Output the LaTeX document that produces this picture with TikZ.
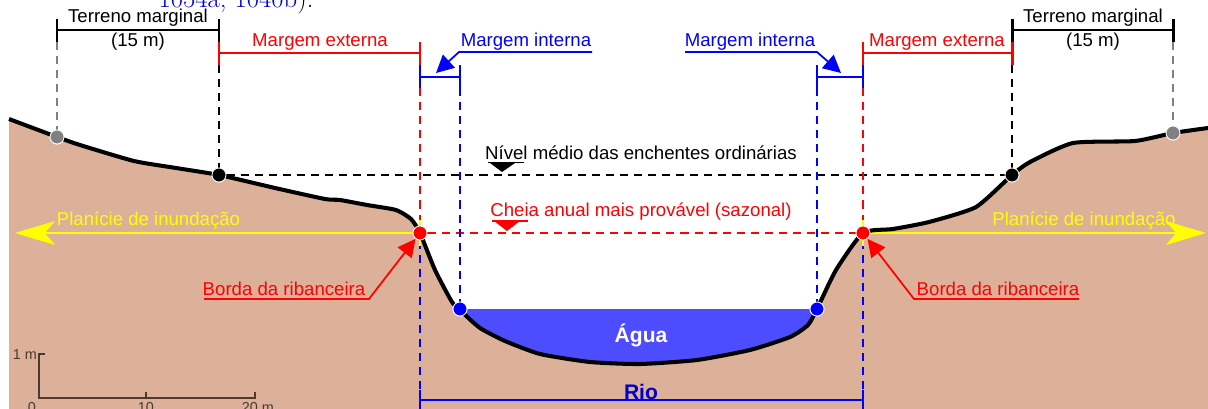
\documentclass[tikz,border=0pt]{standalone}
\usepackage{fontspec}
\setsansfont{Liberation Sans}
\usepackage{xcolor}
\usetikzlibrary{arrows.meta,calc,positioning}
\definecolor{soil}{HTML}{DDB09A}
\definecolor{water}{HTML}{4D4DFF}
\definecolor{scalebrown}{HTML}{4A3A32}
\definecolor{floodyellow}{HTML}{FFFF00}
\tikzset{
  every node/.style={font=\sffamily\fontsize{10.6}{12}\selectfont,inner sep=0pt},
  span/.style={line width=1.7pt},
  guide/.style={line width=1pt,dash pattern=on 4.6pt off 3.4pt},
  dot/.style={circle,fill=#1,draw=white,line width=0.5pt,minimum size=8pt},
  leader/.style={line width=1pt,-{Triangle[length=10pt,width=10pt]}},
  flood/.style={floodyellow,line width=1.5pt,-{Stealth[length=22.7pt,width=13.5pt,inset=5.7pt]}},
  scaleline/.style={scalebrown,line width=0.7pt},
  scaletext/.style={font=\sffamily\fontsize{8.2}{10}\selectfont,text=scalebrown}
}
% ground surface across the valley
\newcommand{\profile}{plot[smooth,tension=0.35] coordinates {
  (9,119) (57,137) (80,145) (134,161) (176,168) (219,175) (275,188) (325,199)
  (340,200) (367,205) (396,210) (411,219) (420,233) (435,270) (452,302) (462,312)
  (480,328) (505,341) (540,354) (590,362) (640,364) (697,360) (750,350) (790,337)
  (808,325) (817,309) (836,270) (863,233) (893,229) (929,222) (976,207) (1012,175)
  (1030,162) (1073,143) (1135,141) (1173,133) (1208,128)}}

\begin{document}
\begin{tikzpicture}[x=0.02cm,y=-0.02cm]
  \useasboundingbox (0,0) rectangle (1208,409);
  \begin{scope}
    \clip (0,0) rectangle (1208,30);
    \node[anchor=base,font=\rmfamily\fontsize{15.2}{16}\selectfont] (quote) at (236,7.5)
      {\textcolor{blue!80!black}{1054a, 1040b})\textsl{.}};
  \end{scope}

  % water first, the ground covers what lies under the bed
  \fill[water] (450,309) rectangle (825,372);
  \fill[soil] \profile -- (1208,409) -- (9,409) -- cycle;

  % points on the surface
  \path (57,137) node[dot=gray] (outerL) {}
        (219,175) node[dot=black] (levelL) {}
        (420,233) node[dot=red] (bankL) {}
        (460,309) node[dot=blue] (waterL) {}
        (817,309) node[dot=blue] (waterR) {}
        (863,233) node[dot=red] (bankR) {}
        (1012,175) node[dot=black] (levelR) {}
        (1173,133) node[dot=gray] (outerR) {};

  % guides
  \draw[guide,gray] (57,42) -- (outerL);
  \draw[guide,gray] (1173,42) -- (outerR);
  \draw[guide] (219,65) -- (levelL);
  \draw[guide] (1012,65) -- (levelR);
  \draw[guide] (levelL) -- (levelR);
  \draw[guide,red] (420,88) -- (bankL);
  \draw[guide,red] (863,88) -- (bankR);
  \draw[guide,red] (bankL) -- (bankR);
  \draw[guide,blue] (460,88) -- (waterL);
  \draw[guide,blue] (817,88) -- (waterR);
  \draw[guide,blue] (bankL) -- (420,390);
  \draw[guide,blue] (bankR) -- (863,390);

  % flood plain
  \coordinate (plainL) at (15,233);
  \coordinate (plainR) at (1206,233);
  \draw[flood] (bankL) -- (plainL);
  \draw[flood] (bankR) -- (plainR);
  \draw[floodyellow,line width=1.5pt] (420,220) -- (420,246);
  \draw[floodyellow,line width=1.5pt] (863,220) -- (863,246);

  \draw[line width=2.3pt,line join=round] \profile;

  % dots again, over the surface line
  \path (outerL) node[dot=gray] {}
        (levelL) node[dot=black] {}
        (bankL) node[dot=red] {}
        (waterL) node[dot=blue] {}
        (waterR) node[dot=blue] {}
        (bankR) node[dot=red] {}
        (levelR) node[dot=black] {}
        (outerR) node[dot=gray] {};

  % spans above the section
  \draw[span] (57,19) -- (57,42);
  \draw[span] (219,19) -- (219,42);
  \draw[span] (57,30) -- (219,30);
  \draw[span] (1012,19) -- (1012,42);
  \draw[span] (1173,19) -- (1173,42);
  \draw[span] (1012,30) -- (1173,30);
  \draw[span,red] (219,42) -- (219,65);
  \draw[span,red] (420,42) -- (420,65);
  \draw[span,red] (219,53) -- (420,53);
  \draw[span,red] (863,42) -- (863,65);
  \draw[span,red] (1012,42) -- (1012,65);
  \draw[span,red] (863,53) -- (1012,53);
  \draw[span,blue] (420,65) -- (420,88);
  \draw[span,blue] (460,65) -- (460,88);
  \draw[span,blue] (420,77) -- (460,77);
  \draw[span,blue] (817,65) -- (817,88);
  \draw[span,blue] (863,65) -- (863,88);
  \draw[span,blue] (817,77) -- (863,77);
  \draw[span,blue] (420,390) -- (420,409);
  \draw[span,blue] (863,390) -- (863,409);
  \draw[span,blue] (420,400) -- (863,400);

  % span labels
  \node (terrenoL) at (138,18) {Terreno marginal};
  \node (widthL) at (138,42) {(15 m)};
  \node (terrenoR) at (1093,18) {Terreno marginal};
  \node (widthR) at (1093,42) {(15 m)};
  \node[text=red] (externaL) at (320,42) {Margem externa};
  \node[text=red] (externaR) at (937,42) {Margem externa};
  \node[text=blue] (internaL) at (526,42) {Margem interna};
  \node[text=blue] (internaR) at (750,42) {Margem interna};

  % water level marks
  \node (ordinary) at (641,153) {Nível médio das enchentes ordinárias};
  \node[text=red] (seasonal) at (641,212) {Cheia anual mais provável (sazonal)};
  \draw[line width=0.8pt] (488,162.5) -- (524,162.5);
  \fill (490,163) -- (515,163) -- (502,172) -- cycle;
  \draw[red,line width=0.8pt] (492,221) -- (528,221);
  \fill[red] (494,221) -- (520,221) -- (507,231) -- cycle;

  % leaders
  \coordinate (kneeA) at (459,52);
  \coordinate (tipA) at (436,73);
  \coordinate (kneeB) at (817,52);
  \coordinate (tipB) at (841,73);
  \draw[leader,blue] (592,52) -- (kneeA) -- (tipA);
  \draw[leader,blue] (685,52) -- (kneeB) -- (tipB);

  \node[text=floodyellow] (plainTextL) at (148.5,221) {Planície de inundação};
  \node[text=floodyellow] (plainTextR) at (1084,221) {Planície de inundação};

  \node[text=red] (edgeL) at (284,289) {Borda da ribanceira};
  \node[text=red] (edgeR) at (998,289) {Borda da ribanceira};
  \coordinate (kneeC) at (369,299);
  \coordinate (kneeD) at (914,299);
  \draw[leader,red] (204,299) -- (kneeC) -- (bankL);
  \draw[leader,red] (1079,299) -- (kneeD) -- (bankR);

  % river
  \node[text=white,font=\sffamily\bfseries\fontsize{12}{14}\selectfont] (agua) at (641,335) {Água};
  \node[text=blue!80!black,font=\sffamily\bfseries\fontsize{12}{14}\selectfont] (rio) at (641,392) {Rio};

  % scale
  \draw[scaleline] (45,354) -- (39,354) -- (39,398) -- (255,398) -- (255,392);
  \draw[scaleline] (146,398) -- (146,392);
  \node[scaletext] (scaleV) at (25,355) {1 m};
  \node[scaletext] (scaleA) at (32,408) {0};
  \node[scaletext] (scaleB) at (146,408) {10};
  \node[scaletext] (scaleC) at (258,408) {20 m};
\end{tikzpicture}
\end{document}
